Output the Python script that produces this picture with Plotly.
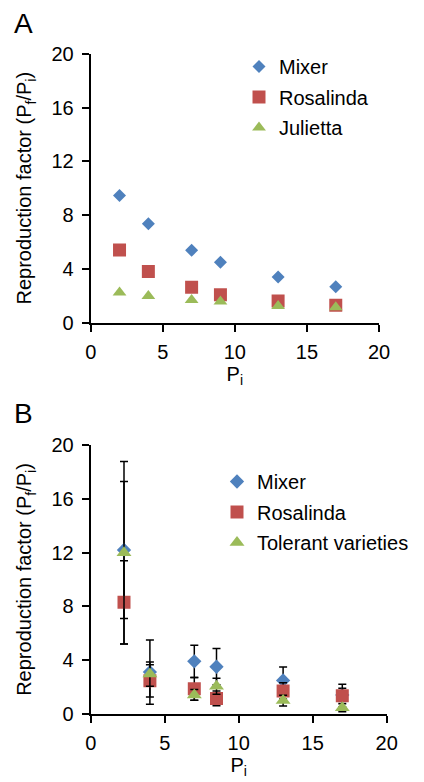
import plotly.graph_objects as go

# ---------------- Data ----------------
# Panel A
a_x = [2, 4, 7, 9, 13, 17]
a_mixer = [9.45, 7.35, 5.38, 4.5, 3.4, 2.68]
a_rosalinda = [5.4, 3.8, 2.63, 2.08, 1.62, 1.3]
a_julietta = [2.25, 1.98, 1.68, 1.58, 1.25, 1.15]

# Panel B
b_x = [2.25, 4, 7, 8.5, 13, 17]
b_mixer = [12.2, 3.1, 3.9, 3.5, 2.48, 1.4]
b_mixer_err = [5.1, 2.4, 1.2, 1.35, 1.0, 0.5]
b_rosalinda = [8.3, 2.45, 1.85, 1.14, 1.7, 1.34]
b_rosalinda_err = [3.1, 1.2, 0.85, 0.55, 0.6, 0.85]
b_tolerant = [12.0, 2.95, 1.4, 2.05, 0.98, 0.45]
b_tolerant_err = [6.8, 0.9, 0.4, 0.6, 0.4, 0.3]

x_ticks = [0, 5, 10, 15, 20]
y_ticks = [0, 4, 8, 12, 16, 20]

BLUE = "#4F81BD"
RED = "#C0504D"
GREEN = "#9BBB59"
FONT = "Liberation Sans, Arial, Helvetica, sans-serif"

# the page body has an 8px margin; the figure is sized to fit the window
OFF = 8
W, H = 424 - OFF, 782 - OFF

fig = go.Figure()

# Panel A traces
fig.add_trace(go.Scatter(x=a_x, y=a_mixer, mode="markers", name="Mixer",
                         marker=dict(symbol="diamond", size=10, color=BLUE),
                         xaxis="x", yaxis="y", legend="legend", legendgroup="a1"))
fig.add_trace(go.Scatter(x=a_x, y=a_rosalinda, mode="markers", name="Rosalinda",
                         marker=dict(symbol="square", size=13, color=RED),
                         xaxis="x", yaxis="y", legend="legend", legendgroup="a2"))
fig.add_trace(go.Scatter(x=a_x, y=a_julietta, mode="markers", name="Julietta",
                         marker=dict(symbol="triangle-up", size=12, color=GREEN),
                         xaxis="x", yaxis="y", legend="legend", legendgroup="a3"))

# Panel B traces
err_style = dict(type="data", color="black", thickness=1.5, width=4)
fig.add_trace(go.Scatter(x=b_x, y=b_mixer, mode="markers", name="Mixer",
                         error_y=dict(array=b_mixer_err, **err_style),
                         marker=dict(symbol="diamond", size=11, color=BLUE),
                         xaxis="x2", yaxis="y2", legend="legend2", legendgroup="b1"))
fig.add_trace(go.Scatter(x=b_x, y=b_rosalinda, mode="markers", name="Rosalinda",
                         error_y=dict(array=b_rosalinda_err, **err_style),
                         marker=dict(symbol="square", size=13, color=RED),
                         xaxis="x2", yaxis="y2", legend="legend2", legendgroup="b2"))
fig.add_trace(go.Scatter(x=b_x, y=b_tolerant, mode="markers", name="Tolerant varieties",
                         error_y=dict(array=b_tolerant_err, **err_style),
                         marker=dict(symbol="triangle-up", size=13, color=GREEN),
                         xaxis="x2", yaxis="y2", legend="legend2", legendgroup="b3"))

def px_x(p):
    return (p - OFF) / W

def px_y(p):
    return 1 - (p - OFF) / H

axis_common = dict(showline=True, linecolor="black", linewidth=2,
                   ticks="outside", ticklen=7, tickwidth=2, tickcolor="black",
                   showgrid=False, zeroline=False, automargin=False,
                   tickfont=dict(family=FONT, size=20, color="black"))

title_y = "Reproduction factor (P<sub>f</sub>/P<sub>i</sub>)"

fig.update_layout(
    width=W, height=H,
    margin=dict(l=0, r=0, t=0, b=0, autoexpand=False),
    paper_bgcolor="white", plot_bgcolor="white",
    font=dict(family=FONT, color="black"),
    xaxis=dict(domain=[px_x(90.7), px_x(379)], range=[0, 20], tickvals=x_ticks,
               anchor="y", ticklabelstandoff=3,
               title=dict(text="P<sub>i</sub>", font=dict(size=20), standoff=5),
               **axis_common),
    yaxis=dict(domain=[px_y(322.7), px_y(53.7)], range=[0, 20], tickvals=y_ticks,
               anchor="x", ticklabelstandoff=4,
               title=dict(text=title_y, font=dict(size=20), standoff=14),
               **axis_common),
    xaxis2=dict(domain=[px_x(90.7), px_x(386.7)], range=[0, 20], tickvals=x_ticks,
                anchor="y2", ticklabelstandoff=3,
                title=dict(text="P<sub>i</sub>", font=dict(size=20), standoff=5),
                **axis_common),
    yaxis2=dict(domain=[px_y(713.7), px_y(445.3)], range=[0, 20], tickvals=y_ticks,
                anchor="x2", ticklabelstandoff=4,
                title=dict(text=title_y, font=dict(size=20), standoff=14),
                **axis_common),
    legend=dict(x=px_x(239), y=px_y(47), xanchor="left", yanchor="top",
                font=dict(family=FONT, size=20, color="black"),
                bgcolor="rgba(0,0,0,0)", itemsizing="trace", tracegroupgap=1.5),
    legend2=dict(x=px_x(217), y=px_y(462), xanchor="left", yanchor="top",
                 font=dict(family=FONT, size=20, color="black"),
                 bgcolor="rgba(0,0,0,0)", itemsizing="trace", tracegroupgap=1.5),
    annotations=[
        dict(text="A", x=px_x(12), y=px_y(6), xref="paper", yref="paper",
             xanchor="left", yanchor="top", showarrow=False,
             font=dict(family=FONT, size=28, color="black")),
        dict(text="B", x=px_x(12), y=px_y(396), xref="paper", yref="paper",
             xanchor="left", yanchor="top", showarrow=False,
             font=dict(family=FONT, size=28, color="black")),
    ],
)

fig.write_html("out.html")
